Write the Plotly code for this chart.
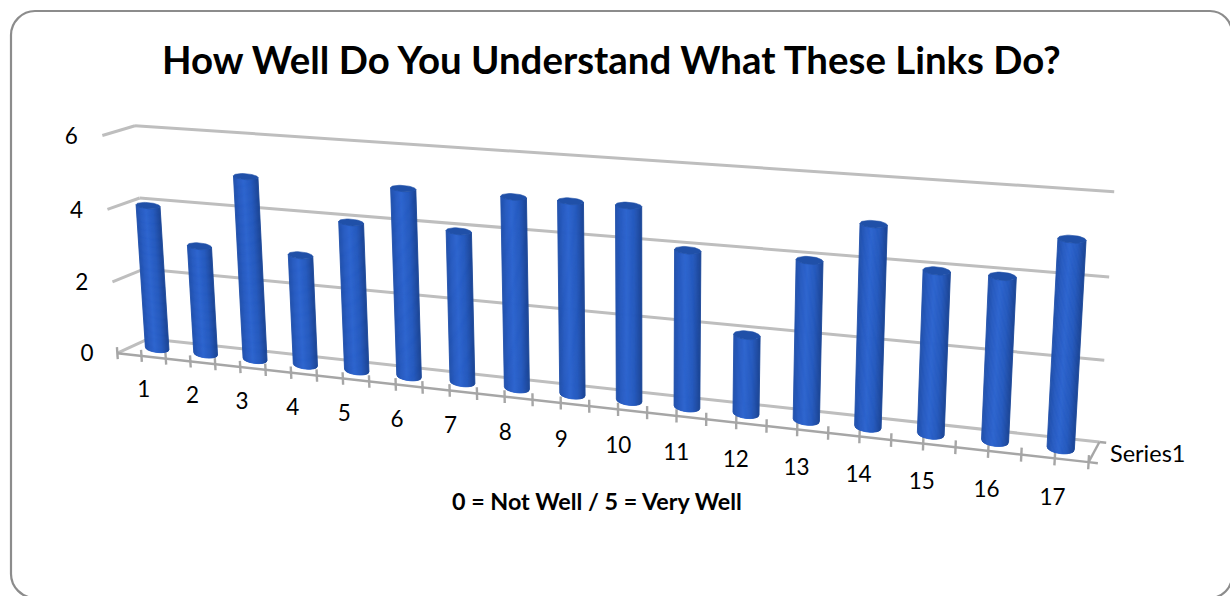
import numpy as np
import plotly.graph_objects as go

# ---- data ----
categories = [str(i) for i in range(1, 18)]
values = [4, 3, 5, 3, 4, 5, 4, 5, 5, 5, 4, 2, 4, 5, 4, 4, 5]
value_ticks = [0, 2, 4, 6]
series_name = "Series1"
title_text = "How Well Do You Understand What These Links Do?"
axis_title = "0 = Not Well / 5 = Very Well"

# ---- oblique 3D view: (category fraction, depth, value) -> screen ----
view_from = np.array([
    [0, 0, 0], [1, 0, 0], [.5, 0, 0], [0, 1, 0], [1, 1, 0], [0, 1, 6], [1, 1, 6],
    [0, 0, 6], [0, 1, 4], [1, 1, 4], [0, 1, 2], [1, 1, 2]], float)
view_to = np.array([
    [118, 352], [1088, 463], [562, 403], [146, 338], [1100, 442], [135, 126], [1115, 190],
    [101, 136], [141, 198], [1108, 277], [146, 270], [1104, 361]], float)
rows, rhs = [], []
for (a, b, c), (px, py) in zip(view_from, view_to):
    rows.append([a, b, c, 1, 0, 0, 0, 0, -px * a, -px * b, -px * c]); rhs.append(px)
    rows.append([0, 0, 0, 0, a, b, c, 1, -py * a, -py * b, -py * c]); rhs.append(py)
m = np.linalg.lstsq(np.array(rows), np.array(rhs), rcond=None)[0]
M = np.append(m, 1.0).reshape(3, 4)


def project(u, w, z):
    h = M @ np.array([u, w, z, 1.0])
    return float(h[0] / h[2]), float(h[1] / h[2])


def poly(pts):
    return [p[0] for p in pts] + [pts[0][0], None], [p[1] for p in pts] + [pts[0][1], None]


fig = go.Figure()
n = len(values)
GRID = "#BEBEBE"
AXIS = "#A6A6A6"


def add_lines(segments, color, width):
    xs, ys = [], []
    for a, b in segments:
        pa, pb = project(*a), project(*b)
        xs += [pa[0], pb[0], None]
        ys += [pa[1], pb[1], None]
    fig.add_trace(go.Scatter(x=xs, y=ys, mode="lines", line=dict(color=color, width=width),
                             hoverinfo="skip", showlegend=False))


# walls
grid = []
for t in value_ticks:
    grid.append(((0, 1, t), (1, 1, t)))
    grid.append(((0, 0, t), (0, 1, t)))
add_lines(grid, GRID, 3)
# category axis + ticks, depth axis
axis = [((0, 0, 0), (1, 0, 0)), ((1, 0, 0), (1, 1, 0)), ((1, 1, 0), (1.006, 1, 0)), ((1, 0, 0), (1.008, 0, 0))]
for j in range(0, 2 * n + 1):
    axis.append(((j / (2 * n), 0, -0.17), (j / (2 * n), 0, 0.17)))
add_lines(axis, AXIS, 2.4)

# cylinders
WR = 0.27


def cyl_point(i, s, q, z):
    """Point on the cross-section ellipse of bar i at value z: s across, q in depth (-1 front, +1 back)."""
    uc = (i + 0.5) / n
    ru = (0.245 - 0.04 * i / (n - 1)) / n
    cx, cy = project(uc, 0.5, z)
    ex, ey = project(uc + ru, 0.5, z)
    _, dy = project(uc, 0.5 + WR, z)
    return cx + (ex - cx) * s, cy + (ey - cy) * s + (dy - cy) * q


edges = np.linspace(-1, 1, 25)
shade_stops = [(-1, (34, 80, 170)), (-0.55, (40, 92, 194)), (-0.15, (45, 101, 207)),
               (0.45, (38, 90, 190)), (1, (28, 70, 150))]
for k in range(len(edges) - 1):
    s1, s2 = edges[k], edges[k + 1]
    mid = (s1 + s2) / 2
    col = [np.interp(mid, [a for a, _ in shade_stops], [c[q] for _, c in shade_stops]) for q in range(3)]
    color = "rgb(%d,%d,%d)" % tuple(col)
    xs, ys = [], []
    for i, v in enumerate(values):
        ss = np.linspace(s1, s2, 3)
        lower = [cyl_point(i, s, -np.sqrt(max(0, 1 - s * s)), 0) for s in ss]
        upper = [cyl_point(i, s, -np.sqrt(max(0, 1 - s * s)), v) for s in ss[::-1]]
        px, py = poly(lower + upper)
        xs += px
        ys += py
    fig.add_trace(go.Scatter(x=xs, y=ys, mode="lines", fill="toself", fillcolor=color,
                             line=dict(color=color, width=0.9), hoverinfo="skip", showlegend=False))
# caps
xs, ys = [], []
for i, v in enumerate(values):
    ring = [cyl_point(i, np.cos(t), np.sin(t), v) for t in np.linspace(0, 2 * np.pi, 40)[:-1]]
    px, py = poly(ring)
    xs += px
    ys += py
fig.add_trace(go.Scatter(x=xs, y=ys, mode="lines", fill="toself", fillcolor="#2050A8",
                         line=dict(color="#2050A8", width=0.6), hoverinfo="skip", showlegend=False))

# tick labels
FONT = "Lato, Carlito, Calibri, sans-serif"
LAB = 22.5
lab = [project((i + 0.5) / n, 0, -1.0) for i in range(n)]
fig.add_trace(go.Scatter(x=[p[0] for p in lab], y=[p[1] for p in lab], mode="text", text=categories,
                         textposition="middle center", textfont=dict(family=FONT, size=LAB, color="#000"),
                         hoverinfo="skip", showlegend=False))
lab = [project(-0.038, 0, t - 0.15) for t in value_ticks]
fig.add_trace(go.Scatter(x=[p[0] for p in lab], y=[p[1] for p in lab], mode="text",
                         text=[str(t) for t in value_ticks], textposition="middle center",
                         textfont=dict(family=FONT, size=LAB, color="#000"), hoverinfo="skip", showlegend=False))
p = project(1.014, 0.5, -0.05)
fig.add_trace(go.Scatter(x=[p[0]], y=[p[1]], mode="text", text=[series_name], textposition="middle right",
                         textfont=dict(family=FONT, size=23.5, color="#000"), hoverinfo="skip", showlegend=False))

fig.update_layout(
    width=1230, height=596, margin=dict(l=0, r=0, t=0, b=0, pad=0),
    paper_bgcolor="white", plot_bgcolor="white", showlegend=False,
    xaxis=dict(range=[0, 1230], visible=False, fixedrange=True),
    yaxis=dict(range=[596, 0], visible=False, fixedrange=True),
    shapes=[dict(type="path", xref="x", yref="y",
                 path="M 11 35 C 11 22 22 11 35 11 L 1210 11 C 1222 11 1232 21 1232 33 L 1232 576 "
                      "C 1232 588 1222 598 1210 598 L 35 598 C 22 598 11 587 11 574 Z",
                 line=dict(color="#8C8C8C", width=2.2), fillcolor="rgba(0,0,0,0)", layer="below")],
    annotations=[
        dict(text="<b>%s</b>" % title_text, xref="paper", yref="paper", x=611.5 / 1230, y=1 - 59 / 596,
             xanchor="center", yanchor="middle", showarrow=False, font=dict(family=FONT, size=38.4, color="#000")),
        dict(text="<b>%s</b>" % axis_title, xref="paper", yref="paper", x=596.5 / 1230, y=1 - 501 / 596,
             xanchor="center", yanchor="middle", showarrow=False, font=dict(family=FONT, size=23.3, color="#000")),
    ],
)
fig.write_html("out.html", config={"displayModeBar": False},
               post_script="document.body.style.margin='0';document.body.style.overflow='hidden';")
